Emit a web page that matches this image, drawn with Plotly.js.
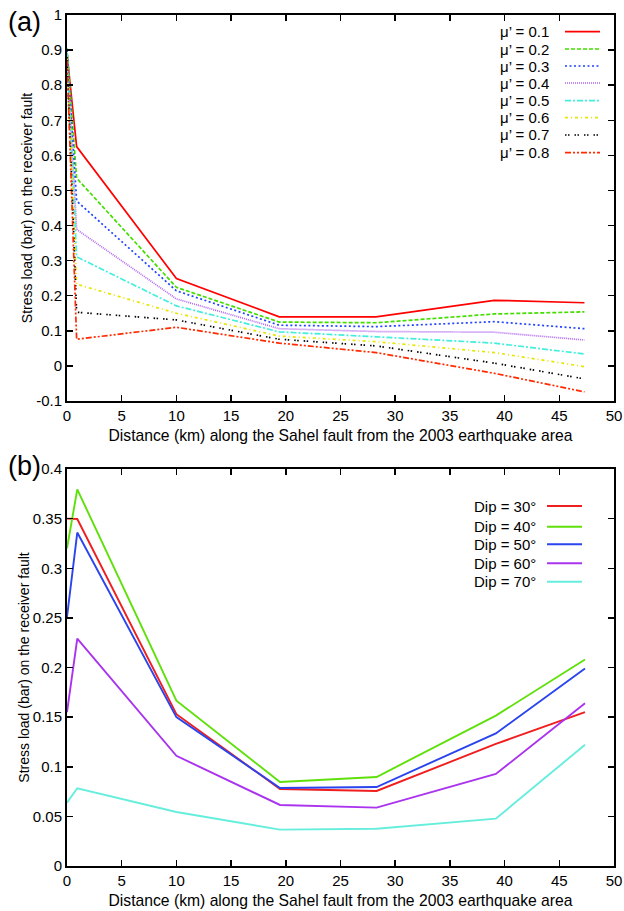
<!DOCTYPE html>
<html>
<head>
<meta charset="utf-8">
<script src="https://cdn.plot.ly/plotly-3.0.1.min.js"></script>
<style>html,body{margin:0;padding:0;background:#fff;}#chart{width:624px;height:911px;}</style>
</head>
<body>
<div id="chart"></div>
<script>
// ---- Panel (a) data ----
const distA = [0, 0.88, 10, 19.4, 28.25, 39.05, 47.3];
const muLabels = ["μ’ = 0.1","μ’ = 0.2","μ’ = 0.3","μ’ = 0.4","μ’ = 0.5","μ’ = 0.6","μ’ = 0.7","μ’ = 0.8"];
const mu01 = [0.89, 0.625, 0.249, 0.140, 0.140, 0.187, 0.180];
const mu02 = [0.905, 0.535, 0.224, 0.125, 0.123, 0.148, 0.154];
const mu03 = [0.90, 0.470, 0.214, 0.116, 0.112, 0.126, 0.106];
const mu04 = [0.89, 0.389, 0.191, 0.106, 0.098, 0.096, 0.074];
const mu05 = [0.89, 0.311, 0.171, 0.097, 0.083, 0.065, 0.034];
const mu06 = [0.88, 0.233, 0.150, 0.085, 0.069, 0.038, -0.002];
const mu07 = [0.88, 0.153, 0.131, 0.076, 0.057, 0.008, -0.037];
const mu08 = [0.87, 0.076, 0.110, 0.065, 0.038, -0.021, -0.074];
const yTickValsA = [-0.1, 0, 0.1, 0.2, 0.3, 0.4, 0.5, 0.6, 0.7, 0.8, 0.9, 1];
const yTickTextA = ["-0.1","0","0.1","0.2","0.3","0.4","0.5","0.6","0.7","0.8","0.9","1"];

// ---- Panel (b) data ----
const distB = [0, 0.94, 10, 19.47, 28.3, 39.2, 47.35];
const dipLabels = ["Dip = 30°","Dip = 40°","Dip = 50°","Dip = 60°","Dip = 70°"];
const dip30 = [0.350, 0.3496, 0.153, 0.0776, 0.0756, 0.123, 0.155];
const dip40 = [0.320, 0.3795, 0.1666, 0.0846, 0.0897, 0.1515, 0.208];
const dip50 = [0.251, 0.336, 0.150, 0.0786, 0.0796, 0.1336, 0.199];
const dip60 = [0.155, 0.229, 0.111, 0.0615, 0.0588, 0.0927, 0.164];
const dip70 = [0.0638, 0.0783, 0.0544, 0.0366, 0.0376, 0.0477, 0.1222];

const xTitle = "Distance (km) along the Sahel fault from the 2003 earthquake area";
const yTitle = "Stress load (bar) on the receiver fault";

// styles
const stylesA = [
  {color:"#ff0000", dash:"solid"},
  {color:"#44dd00", dash:"4px,2px"},
  {color:"#2244ff", dash:"2px,2.5px"},
  {color:"#b066f0", dash:"1px,1px"},
  {color:"#44eedd", dash:"6px,2px,2px,2px"},
  {color:"#e6e600", dash:"3px,3px,1px,3px"},
  {color:"#000000", dash:"1.5px,1.5px,1.5px,5px"},
  {color:"#ff2a00", dash:"6px,2px,2px,2px,2px,2px"}
];
const stylesB = [
  {color:"#f01e1e"},
  {color:"#5fe00a"},
  {color:"#2a44ee"},
  {color:"#aa33ee"},
  {color:"#66eedd"}
];

const seriesA = [mu01, mu02, mu03, mu04, mu05, mu06, mu07, mu08];
const seriesB = [dip30, dip40, dip50, dip60, dip70];

const traces = [];
seriesA.forEach((s, i) => traces.push({
  x: distA, y: s, type: "scatter", mode: "lines", name: muLabels[i],
  xaxis: "x", yaxis: "y", showlegend: false,
  line: {color: stylesA[i].color, dash: stylesA[i].dash, width: 1.7}
}));
seriesB.forEach((s, i) => traces.push({
  x: distB, y: s, type: "scatter", mode: "lines", name: dipLabels[i],
  xaxis: "x2", yaxis: "y2", showlegend: false,
  line: {color: stylesB[i].color, width: 1.9}
}));

// Layout geometry (paper coordinates)
const M = {l: 67, r: 10, t: 15, b: 45};
const H = 911, plotH = H - M.t - M.b, plotW = 624 - M.l - M.r;
const py = p => (H - M.b - p) / plotH;   // pixel y -> paper y
const px = p => (p - M.l) / plotW;       // pixel x -> paper x

const font = {family: "Liberation Sans, Arial, sans-serif", color: "#000"};
const axisCommon = {
  showline: true, linecolor: "#000", linewidth: 2, mirror: "ticks",
  ticks: "inside", ticklen: 6, tickwidth: 1.5, tickcolor: "#000",
  showgrid: false, zeroline: false,
  tickfont: {family: font.family, size: 15, color: "#000"}
};
const xTitleFont = {family: font.family, size: 15.7, color: "#000"};
const yTitleFont = {family: font.family, size: 14, color: "#000"};

const annotations = [
  {text: "(a)", xref: "paper", yref: "paper", x: px(6), y: py(22), xanchor: "left", yanchor: "middle", showarrow: false, font: {family: font.family, size: 27, color: "#000"}},
  {text: "(b)", xref: "paper", yref: "paper", x: px(6), y: py(466), xanchor: "left", yanchor: "middle", showarrow: false, font: {family: font.family, size: 27, color: "#000"}}
];
const shapes = [];
const rowsA = [31.7, 49, 66, 83, 100.7, 117.7, 135, 152.7];
muLabels.forEach((t, i) => {
  annotations.push({text: t, xref: "paper", yref: "paper", x: px(551), y: py(rowsA[i]), xanchor: "right", yanchor: "middle", showarrow: false, font: {family: font.family, size: 15, color: "#000"}});
  shapes.push({type: "line", xref: "paper", yref: "paper", x0: px(565), x1: px(600), y0: py(rowsA[i]), y1: py(rowsA[i]), line: {color: stylesA[i].color, dash: stylesA[i].dash, width: 1.7}});
});
const rowsB = [506, 526.7, 544.3, 563.3, 581.7];
dipLabels.forEach((t, i) => {
  annotations.push({text: t, xref: "paper", yref: "paper", x: px(538), y: py(rowsB[i]), xanchor: "right", yanchor: "middle", showarrow: false, font: {family: font.family, size: 15, color: "#000"}});
  shapes.push({type: "line", xref: "paper", yref: "paper", x0: px(547), x1: px(582), y0: py(rowsB[i]), y1: py(rowsB[i]), line: {color: stylesB[i].color, width: 1.9}});
});

const layout = {
  width: 624, height: 911,
  margin: M,
  paper_bgcolor: "#fff", plot_bgcolor: "#fff",
  font: font,
  showlegend: false,
  xaxis: Object.assign({}, axisCommon, {
    domain: [0, 1], anchor: "y", range: [0, 50], dtick: 5, tick0: 0,
    title: {text: xTitle, font: xTitleFont, standoff: 7}
  }),
  yaxis: Object.assign({}, axisCommon, {
    domain: [py(401), 1], anchor: "x", range: [-0.1, 1],
    tickmode: "array", tickvals: yTickValsA, ticktext: yTickTextA,
    title: {text: yTitle, font: yTitleFont, standoff: 0}
  }),
  xaxis2: Object.assign({}, axisCommon, {
    domain: [0, 1], anchor: "y2", range: [0, 50], dtick: 5, tick0: 0,
    title: {text: xTitle, font: xTitleFont, standoff: 7}
  }),
  yaxis2: Object.assign({}, axisCommon, {
    domain: [0, py(469)], anchor: "x2", range: [0, 0.4], dtick: 0.05, tick0: 0,
    title: {text: yTitle, font: yTitleFont, standoff: 0}
  }),
  annotations: annotations,
  shapes: shapes
};

Plotly.newPlot("chart", traces, layout, {staticPlot: true, displayModeBar: false});
</script>
</body>
</html>
